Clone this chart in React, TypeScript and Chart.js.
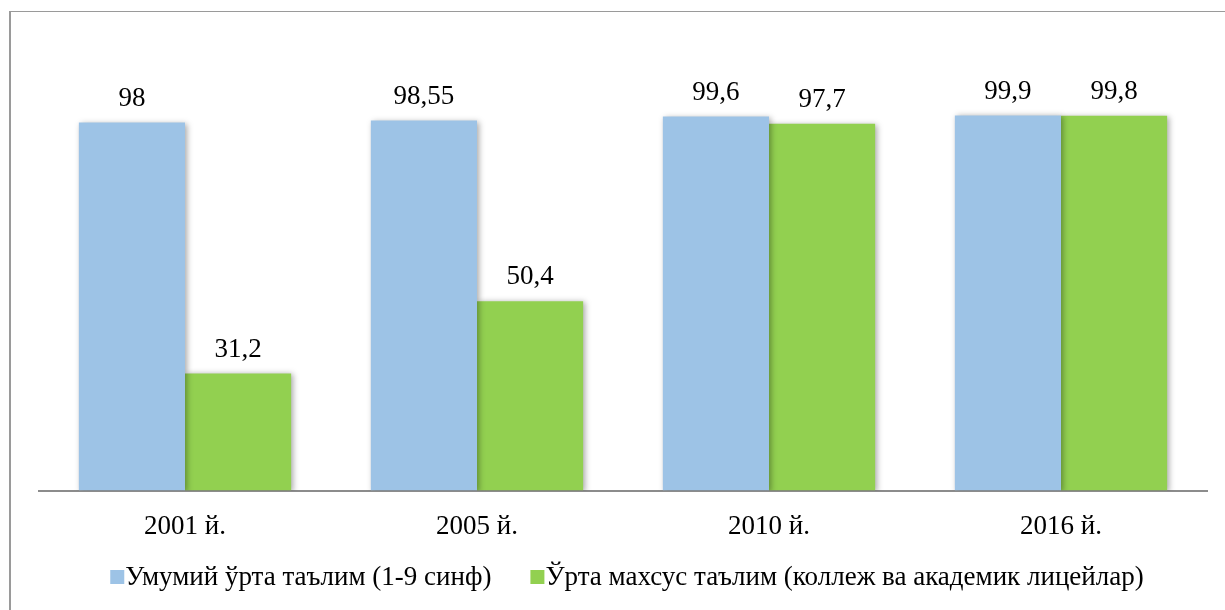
import React, { useEffect, useRef } from "react";
import { Chart, registerables } from "chart.js";

Chart.register(...registerables);

const categories = ["2001 й.", "2005 й.", "2010 й.", "2016 й."];
const seriesNames = [
  "Умумий ўрта таълим (1-9 синф)",
  "Ўрта махсус таълим (коллеж ва академик лицейлар)",
];
const generalValues = [98, 98.55, 99.6, 99.9];
const specialValues = [31.2, 50.4, 97.7, 99.8];
const seriesColors = ["#9DC3E6", "#92D050"];

const FONT = "'Liberation Serif', 'Times New Roman', serif";
const FS = 27;

const fmt = (v: number) => String(v).replace(".", ",");

const barDecor = {
  id: "barDecor",
  beforeDatasetsDraw(chart: any) {
    const ctx = chart.ctx;
    ctx.save();
    ctx.shadowColor = "rgba(0,0,0,0.35)";
    ctx.shadowBlur = 6;
    ctx.shadowOffsetX = 2;
    ctx.shadowOffsetY = 1;
  },
  afterDatasetsDraw(chart: any) {
    const ctx = chart.ctx;
    ctx.restore();
    ctx.save();
    ctx.font = `${FS}px ${FONT}`;
    ctx.fillStyle = "#000";
    ctx.textAlign = "center";
    ctx.textBaseline = "middle";
    chart.data.datasets.forEach((ds: any, i: number) => {
      const meta = chart.getDatasetMeta(i);
      meta.data.forEach((bar: any, j: number) => {
        ctx.fillText(fmt(ds.data[j]), bar.x, bar.y - 24);
      });
    });
    ctx.restore();
  },
  afterDraw(chart: any) {
    const ctx = chart.ctx;
    ctx.save();
    ctx.font = `${FS}px ${FONT}`;
    ctx.textBaseline = "middle";
    ctx.textAlign = "left";
    const box = 14;
    const gapText = 1;
    const gapItem = 39;
    const items = chart.data.datasets.map((ds: any) => ({
      label: ds.label,
      color: ds.backgroundColor,
      w: ctx.measureText(ds.label).width,
    }));
    let total = 0;
    items.forEach((it: any, k: number) => {
      total += box + gapText + it.w + (k > 0 ? gapItem : 0);
    });
    const ca = chart.chartArea;
    let x = (ca.left + ca.right) / 2 + 4 - total / 2;
    const yc = 577;
    items.forEach((it: any) => {
      ctx.fillStyle = it.color;
      ctx.fillRect(x, yc - 7, box, box);
      ctx.fillStyle = "#000";
      ctx.fillText(it.label, x + box + gapText, yc + 1);
      x += box + gapText + it.w + gapItem;
    });
    ctx.restore();
  },
};

export default function App() {
  const ref = useRef<HTMLCanvasElement>(null);
  useEffect(() => {
    if (!ref.current) return;
    const chart = new Chart(ref.current, {
      type: "bar",
      data: {
        labels: categories,
        datasets: [
          {
            label: seriesNames[0],
            data: generalValues,
            backgroundColor: seriesColors[0],
            borderWidth: 0,
            categoryPercentage: 0.727,
            barPercentage: 1,
          },
          {
            label: seriesNames[1],
            data: specialValues,
            backgroundColor: seriesColors[1],
            borderWidth: 0,
            categoryPercentage: 0.727,
            barPercentage: 1,
          },
        ],
      },
      options: {
        animation: false,
        responsive: false,
        devicePixelRatio: 1,
        layout: { padding: { left: 39, right: 18, top: 40, bottom: 47 } },
        plugins: {
          legend: { display: false },
          tooltip: { enabled: false },
        },
        scales: {
          x: {
            grid: { display: false, drawTicks: false },
            border: { display: true, color: "#8C8C8C", width: 2 },
            ticks: {
              color: "#000",
              padding: 20,
              font: { family: FONT, size: FS },
            },
          },
          y: {
            display: false,
            min: 0,
            max: 120,
          },
        },
      },
      plugins: [barDecor],
    });
    return () => chart.destroy();
  }, []);

  return (
    <div
      style={{
        position: "fixed",
        left: 0,
        top: 0,
        width: 1225,
        height: 610,
        overflow: "hidden",
        background: "#fff",
      }}
    >
      <div
        style={{
          position: "absolute",
          left: 9,
          top: 11,
          width: 1400,
          height: 800,
          borderLeft: "2px solid #9A9A9A",
          borderTop: "1px solid #9A9A9A",
          boxSizing: "border-box",
        }}
      />
      <canvas
        ref={ref}
        width={1225}
        height={610}
        style={{ position: "absolute", left: 0, top: 0, width: 1225, height: 610 }}
      />
    </div>
  );
}
